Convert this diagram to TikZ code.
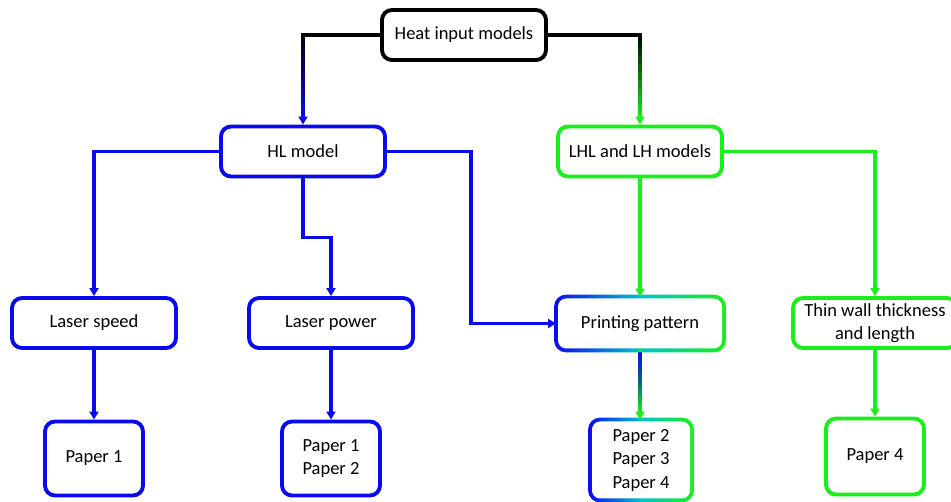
\documentclass[tikz,border=0pt]{standalone}
\usepackage{fontspec}
\setmainfont{Carlito}
\usetikzlibrary{arrows.meta,backgrounds}

\definecolor{hlblue}{RGB}{10,10,240}
\definecolor{lhgreen}{RGB}{25,240,25}
\definecolor{midcyan}{RGB}{0,195,205}

\tikzset{
  box/.style={rounded corners=10pt, line width=3.9pt, align=center,
    minimum width=164pt, minimum height=50pt, inner sep=2pt,
    font=\fontsize{18.5pt}{23.5pt}\selectfont},
  paperbox/.style={box, minimum width=98pt, minimum height=74pt},
  conn/.style={line width=3.1pt, line join=miter,
    -{Triangle[length=8pt,width=9pt]}},
  plain/.style={line width=3.1pt, line join=miter},
}

\begin{document}
\begin{tikzpicture}[x=1pt,y=-1pt]
\useasboundingbox (0,0) rectangle (951,502);

% top level
\node[box, draw=black] (heat) at (464,35) {Heat input models};

% second level
\node[box, draw=hlblue] (hl) at (303,151.5) {HL model};
\node[box, draw=lhgreen] (lhl) at (640,151.5) {LHL and LH models};

% third level
\node[box, draw=hlblue] (ls) at (94,323) {Laser speed};
\node[box, draw=hlblue] (lp) at (331,323) {Laser power};
\node[box] (pp) at (640,323.5) {Printing pattern};
\node[box, draw=lhgreen] (tw) at (875,323) {Thin wall thickness\\and length};

% papers
\node[paperbox, draw=hlblue] (p1) at (94,458.5) {Paper 1};
\node[paperbox, draw=hlblue] (p12) at (331,458.5) {Paper 1\\Paper 2};
\node[paperbox, minimum height=77pt] (p234) at (641,460) {Paper 2\\Paper 3\\Paper 4};
\node[paperbox, draw=lhgreen, minimum height=76pt] (p4) at (875,456.5) {Paper 4};

% white page, then blue-to-green borders of the shared boxes
\begin{scope}[on background layer]
  \fill[white] (0,0) rectangle (951,502);
  \foreach \n in {pp,p234}{
    \shade[rounded corners=11.95pt, left color=hlblue, right color=lhgreen, middle color=midcyan]
      ([shift={(-1.95pt,1.95pt)}]\n.north west) rectangle ([shift={(1.95pt,-1.95pt)}]\n.south east);
    \fill[white, rounded corners=8.05pt]
      ([shift={(1.95pt,-1.95pt)}]\n.north west) rectangle ([shift={(-1.95pt,1.95pt)}]\n.south east);
  }
\end{scope}

% heat input models -> HL / LHL (black fading into the branch colour)
\coordinate (hlturn) at (hl.north |- heat.west);
\coordinate (lhturn) at (lhl.north |- heat.east);
\draw[conn, hlblue] (heat.west) -| (hl.north);
\draw[conn, lhgreen] (heat.east) -| (lhl.north);
\draw[plain, black] (heat.west) -- (hlturn);
\draw[plain, black] (heat.east) -- (lhturn);
\shade[top color=black, bottom color=hlblue]
  ([shift={(-1.55pt,1.55pt)}]hlturn) rectangle ([shift={(1.55pt,7pt)}]hl.north);
\shade[top color=black, bottom color=lhgreen]
  ([shift={(-1.55pt,1.55pt)}]lhturn) rectangle ([shift={(1.55pt,7pt)}]lhl.north);

% HL branches
\draw[conn, hlblue] (hl.west) -| (ls.north);
\draw[conn, hlblue] (hl.south) -- ++(0,-59pt) -| (lp.north);
\draw[conn, hlblue] (hl.east) -- ++(84pt,0) |- (pp.west);

% LHL branches
\draw[conn, lhgreen] (lhl.south) -- (pp.north);
\draw[conn, lhgreen] (lhl.east) -| (tw.north);

% to the papers
\draw[conn, hlblue] (ls.south) -- (p1.north);
\draw[conn, hlblue] (lp.south) -- (p12.north);
\draw[conn, lhgreen] (pp.south) -- (pp.south |- p234.north);
\shade[top color=hlblue, bottom color=lhgreen, middle color=midcyan!55!black]
  ([shift={(-1.55pt,-1.95pt)}]pp.south) rectangle ([shift={(1.55pt,7pt)}]pp.south |- p234.north);
\draw[conn, lhgreen] (tw.south) -- (p4.north);
\end{tikzpicture}
\end{document}
